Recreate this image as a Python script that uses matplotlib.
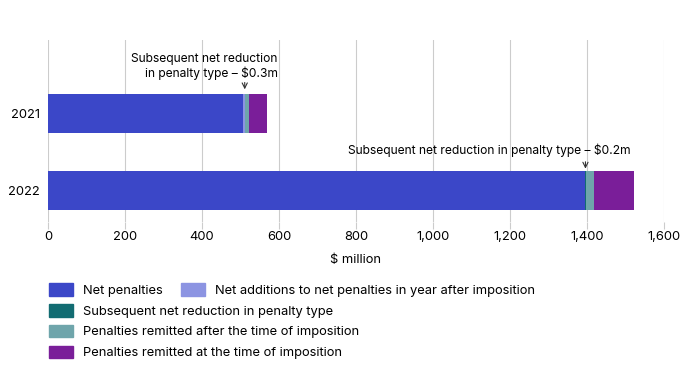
import matplotlib
matplotlib.use('Agg')
import matplotlib.pyplot as plt
import matplotlib.patches as mpatches

plt.rcParams['font.family'] = ['Inter', 'DejaVu Sans']
plt.rcParams['font.size'] = 9.3

years = ['2021', '2022']
net_penalties = [506, 1396]
net_additions = [5, 0]
net_reduction = [0.3, 0.2]
remitted_after = [10, 22]
remitted_at = [47, 103]

series = [
    ('Net penalties', net_penalties, '#3b47c8'),
    ('Net additions to net penalties in year after imposition', net_additions, '#8c94e2'),
    ('Subsequent net reduction in penalty type', net_reduction, '#126c72'),
    ('Penalties remitted after the time of imposition', remitted_after, '#6fa5ab'),
    ('Penalties remitted at the time of imposition', remitted_at, '#7a1e99'),
]

fig = plt.figure(figsize=(6.9, 3.75), dpi=100)
ax = fig.add_axes([48 / 690, 1 - 222 / 375, (664 - 48) / 690, (222 - 40) / 375])

ypos = [0, 1]
left = [0, 0]
for name, vals, col in series:
    ax.barh(ypos, vals, left=left, height=0.5, color=col, label=name)
    left = [l + v for l, v in zip(left, vals)]

ax.set_xlim(0, 1600)
ax.set_ylim(1.4, -0.94)
ax.set_yticks(ypos)
ax.set_yticklabels(years)
ax.set_xticks(range(0, 1601, 200))
ax.set_xticklabels(['{:,}'.format(v) for v in range(0, 1601, 200)])
ax.xaxis.grid(True, color='#cccccc', linewidth=0.8)
ax.set_axisbelow(True)
for s in ax.spines.values():
    s.set_visible(False)
ax.tick_params(axis='x', length=5, color='#cccccc', pad=1.5)
ax.tick_params(axis='y', length=0, pad=6)
ax.set_xlabel('$ million', labelpad=8)

# annotations for the tiny reduction segments
x21 = net_penalties[0] + net_additions[0]
ax.annotate('', xy=(x21, -0.27), xytext=(x21, -0.43),
            arrowprops=dict(arrowstyle='->', color='#333333', lw=0.8))
ax.text(x21 + 86, -0.43, 'Subsequent net reduction\nin penalty type – $0.3m',
        ha='right', va='bottom', linespacing=1.15, fontsize=8.7)

x22 = net_penalties[1] + net_additions[1]
ax.annotate('', xy=(x22, 0.75), xytext=(x22, 0.59),
            arrowprops=dict(arrowstyle='->', color='#333333', lw=0.8))
ax.text(x22 + 117, 0.57, 'Subsequent net reduction in penalty type – $0.2m',
        ha='right', va='bottom', fontsize=8.7)

handles = [mpatches.Patch(color=c, label=n) for n, v, c in series]
leg1 = fig.legend(handles=handles[:2], loc='upper left', ncol=2,
                  bbox_to_anchor=(44 / 690, 1 - 278 / 375), frameon=False,
                  handlelength=1.86, handleheight=1.1, columnspacing=1.4,
                  handletextpad=0.78, borderaxespad=0)
leg2 = fig.legend(handles=handles[2:], loc='upper left', ncol=1,
                  bbox_to_anchor=(44 / 690, 1 - 299 / 375), frameon=False,
                  handlelength=1.86, handleheight=1.1, labelspacing=0.55,
                  handletextpad=0.78, borderaxespad=0)

fig.savefig('out.png', dpi=100)
